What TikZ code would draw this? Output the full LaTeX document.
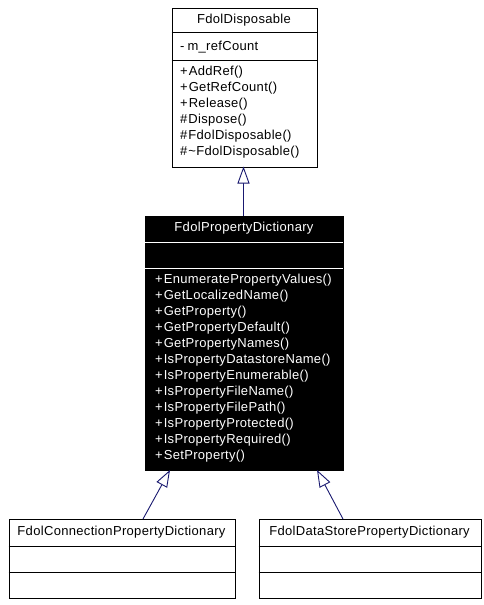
\documentclass[tikz,border=0pt]{standalone}
\usepackage{fontspec}
\setmainfont[LetterSpace=2.5]{Liberation Sans}
\usetikzlibrary{arrows.meta}
\definecolor{edgeblue}{RGB}{25,25,112}
\tikzset{
  umlbox/.style={draw=black, line width=1pt, anchor=north west, inner sep=0pt},
  member/.style={anchor=west, inner sep=0pt, font=\fontsize{13}{16}\selectfont},
  title/.style={anchor=center, inner sep=0pt, font=\fontsize{13}{16}\selectfont},
  inherit/.style={draw=edgeblue, line width=0.9pt, -{Triangle[open, length=17pt, width=12pt, fill=white]}}
}
\begin{document}
\begin{tikzpicture}[x=1pt,y=-1pt]
\useasboundingbox[fill=white] (0,0) rectangle (483,605);
% Top box
\node[umlbox, minimum width=145pt, minimum height=159pt] (disp) at (171.5,7.5) {};
\draw[line width=1pt] (171.5,32) -- (316.5,32);
\draw[line width=1pt] (171.5,60) -- (316.5,60);
\node[title] (dispT) at (244,20) {FdolDisposable};
\node[member] (d0) at (180,47) {-\kern3pt m\_refCount};
\node[member] (d1) at (180,72.5) {+\kern1pt AddRef()};
\node[member] (d2) at (180,88.5) {+\kern1pt GetRefCount()};
\node[member] (d3) at (180,104.5) {+\kern1pt Release()};
\node[member] (d4) at (180,120.5) {\#\kern1pt Dispose()};
\node[member] (d5) at (180,136.5) {\#\kern1pt FdolDisposable()};
\node[member] (d6) at (180,152.5) {\#\kern1pt {\char"7E\relax}FdolDisposable()};
% Middle box
\node[umlbox, fill=black, minimum width=198pt, minimum height=254pt] (dict) at (145,216) {};
\draw[white, line width=1pt] (145,242) -- (343,242);
\draw[white, line width=1pt] (145,268) -- (343,268);
\node[title, text=white] (dictT) at (244,228.5) {FdolPropertyDictionary};
\foreach \t [count=\i from 0] in {EnumeratePropertyValues(),GetLocalizedName(),GetProperty(),GetPropertyDefault(),GetPropertyNames(),IsPropertyDatastoreName(),IsPropertyEnumerable(),IsPropertyFileName(),IsPropertyFilePath(),IsPropertyProtected(),IsPropertyRequired(),SetProperty()}
  \node[member, text=white] (m\i) at (155,280.5+16*\i) {+\kern1pt \t};
% Bottom boxes
\node[umlbox, minimum width=226pt, minimum height=79pt] (conn) at (8.5,519) {};
\draw[line width=1pt] (8.5,546) -- (234.5,546);
\draw[line width=1pt] (8.5,572) -- (234.5,572);
\node[title] (connT) at (121.5,532.5) {FdolConnectionPropertyDictionary};
\node[umlbox, minimum width=222pt, minimum height=79pt] (ds) at (258.5,519) {};
\draw[line width=1pt] (258.5,546) -- (480.5,546);
\draw[line width=1pt] (258.5,572) -- (480.5,572);
\node[title] (dsT) at (369.5,532.5) {FdolDataStorePropertyDictionary};
% Connectors
\coordinate (dictTop) at (243.5,216);
\coordinate (dispBot) at (243.5,166.5);
\coordinate (connTop) at (143,519);
\coordinate (dictBotL) at (170,470);
\coordinate (dsTop) at (343,519);
\coordinate (dictBotR) at (317,470);
\draw[inherit] (dictTop) -- (dispBot);
\draw[inherit] (connTop) -- (dictBotL);
\draw[inherit] (dsTop) -- (dictBotR);
\end{tikzpicture}
\end{document}
